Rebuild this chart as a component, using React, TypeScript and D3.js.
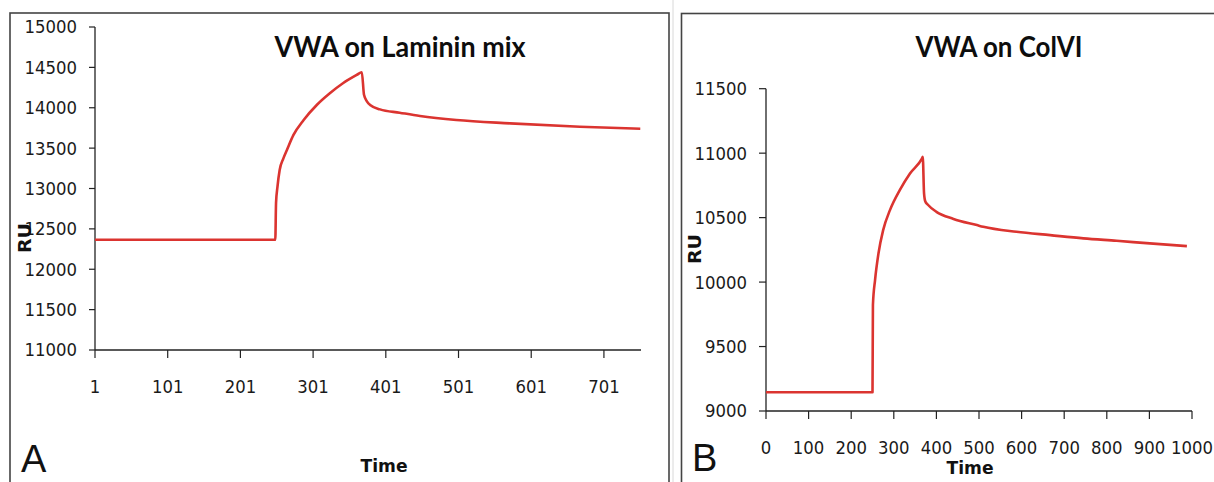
import React from 'react';
import * as d3 from 'd3';

// Panel A: VWA on Laminin mix
const lamTime = [1, 249, 250, 252, 255, 260, 265, 274, 288, 306, 324, 342, 361, 368, 371, 375, 380, 393, 420, 448, 498, 572, 668, 751];
const lamRU = [12365, 12365, 12820, 13022, 13229, 13370, 13477, 13663, 13848, 14034, 14179, 14303, 14406, 14440, 14160, 14080, 14030, 13980, 13939, 13898, 13848, 13807, 13765, 13740];
const lamYTicks = [11000, 11500, 12000, 12500, 13000, 13500, 14000, 14500, 15000];
const lamXTicks = [1, 101, 201, 301, 401, 501, 601, 701];

// Panel B: VWA on ColVI
const colTime = [0, 250, 251, 256, 264, 275, 291, 314, 338, 366, 368, 371, 374, 380, 400, 440, 495, 510, 588, 667, 745, 823, 901, 988];
const colRU = [9145, 9145, 9822, 10016, 10222, 10403, 10558, 10713, 10842, 10958, 10971, 10688, 10625, 10600, 10545, 10490, 10442, 10429, 10390, 10364, 10339, 10320, 10300, 10279];
const colYTicks = [9000, 9500, 10000, 10500, 11000, 11500];
const colXTicks = [0, 100, 200, 300, 400, 500, 600, 700, 800, 900, 1000];

const tickFont = "'DejaVu Sans', Verdana, sans-serif";
const titleFont = "Lato, 'Open Sans', sans-serif";
const lineColor = '#db3430';
const axisColor = '#222';
const textColor = '#1a1a1a';
const digitW = 10.5;

type PanelProps = {
  time: number[];
  ru: number[];
  xDomain: [number, number];
  yDomain: [number, number];
  xRange: [number, number];
  yRange: [number, number];
  xTicks: number[];
  yTicks: number[];
  yTickLen: number;
  title: string;
  titleX: number;
  titleW: number;
  letter: string;
  letterX: number;
  letterY: number;
  ruX: number;
  ruY: number;
  timeX: number;
  timeY: number;
  yLabelX: number;
};

function Panel(p: PanelProps) {
  const x = d3.scaleLinear().domain(p.xDomain).range(p.xRange);
  const y = d3.scaleLinear().domain(p.yDomain).range(p.yRange);
  const pts = p.time.map((t, i) => [t, p.ru[i]] as [number, number]);
  const line = d3
    .line<[number, number]>()
    .x((d) => x(d[0]))
    .y((d) => y(d[1]))
    .curve(d3.curveMonotoneX);
  const y0 = y(p.yDomain[0]);
  const x0 = x(p.xDomain[0]);
  return (
    <g>
      <line x1={x0} x2={x0} y1={y(p.yDomain[1])} y2={y0} stroke={axisColor} strokeWidth={1.3} />
      <line x1={x0} x2={p.xRange[1]} y1={y0} y2={y0} stroke={axisColor} strokeWidth={1.3} />
      {p.yTicks.map((v) => (
        <g key={'y' + v}>
          <line x1={x0 - p.yTickLen} x2={x0} y1={y(v)} y2={y(v)} stroke={axisColor} strokeWidth={1.2} />
          <text
            x={p.yLabelX}
            y={y(v)}
            dy="0.36em"
            textAnchor="end"
            fontFamily={tickFont}
            fontSize={18}
            fill={textColor}
            textLength={String(v).length * digitW}
            lengthAdjust="spacingAndGlyphs"
          >
            {v}
          </text>
        </g>
      ))}
      {p.xTicks.map((v) => (
        <g key={'x' + v}>
          <line x1={x(v)} x2={x(v)} y1={y0} y2={y0 + 8} stroke={axisColor} strokeWidth={1.2} />
          <text
            x={x(v)}
            y={y0 + 43}
            textAnchor="middle"
            fontFamily={tickFont}
            fontSize={18}
            fill={textColor}
            textLength={String(v).length * digitW}
            lengthAdjust="spacingAndGlyphs"
          >
            {v}
          </text>
        </g>
      ))}
      <path d={line(pts) || ''} fill="none" stroke={lineColor} strokeWidth={2.6} strokeLinejoin="round" />
      <text
        x={p.titleX}
        y={57}
        textAnchor="middle"
        fontFamily={titleFont}
        fontWeight={700}
        fontSize={28}
        fill="#0d0d0d"
        textLength={p.titleW}
        lengthAdjust="spacingAndGlyphs"
      >
        {p.title}
      </text>
      <text
        transform={`translate(${p.ruX},${p.ruY}) rotate(-90)`}
        textAnchor="middle"
        fontFamily={tickFont}
        fontWeight={700}
        fontSize={18}
        fill="#111"
        textLength={30}
        lengthAdjust="spacingAndGlyphs"
      >
        RU
      </text>
      <text
        x={p.timeX}
        y={p.timeY}
        textAnchor="middle"
        fontFamily={tickFont}
        fontWeight={700}
        fontSize={18}
        fill="#111"
        textLength={47}
        lengthAdjust="spacingAndGlyphs"
      >
        Time
      </text>
      <text x={p.letterX} y={p.letterY} fontFamily="'Liberation Sans', Arial, sans-serif" fontSize={38} fill="#111">
        {p.letter}
      </text>
    </g>
  );
}

export default function App() {
  return (
    <svg
      width={1214}
      height={482}
      viewBox="0 0 1214 482"
      style={{ position: 'absolute', left: 0, top: 0, background: '#fff' }}
    >
      <rect x={0} y={0} width={1214} height={482} fill="#fff" />
      <rect x={10} y={13} width={659} height={520} fill="none" stroke="#444" strokeWidth={1.6} />
      <line x1={673} x2={673} y1={0} y2={482} stroke="#d8d8d8" strokeWidth={1} />
      <rect x={681.5} y={13.5} width={600} height={520} fill="none" stroke="#444" strokeWidth={1.6} />
      <Panel
        time={lamTime}
        ru={lamRU}
        xDomain={[1, 752]}
        yDomain={[11000, 15000]}
        xRange={[95, 641]}
        yRange={[350, 27]}
        xTicks={lamXTicks}
        yTicks={lamYTicks}
        yTickLen={6}
        title="VWA on Laminin mix"
        titleX={400}
        titleW={251}
        letter="A"
        letterX={21}
        letterY={472}
        ruX={31}
        ruY={238}
        timeX={384}
        timeY={472}
        yLabelX={77}
      />
      <Panel
        time={colTime}
        ru={colRU}
        xDomain={[0, 1000]}
        yDomain={[9000, 11500]}
        xRange={[766, 1192]}
        yRange={[411, 88.7]}
        xTicks={colXTicks}
        yTicks={colYTicks}
        yTickLen={7}
        title="VWA on ColVI"
        titleX={999}
        titleW={167}
        letter="B"
        letterX={692}
        letterY={471}
        ruX={701}
        ruY={249}
        timeX={970}
        timeY={474}
        yLabelX={747}
      />
    </svg>
  );
}
